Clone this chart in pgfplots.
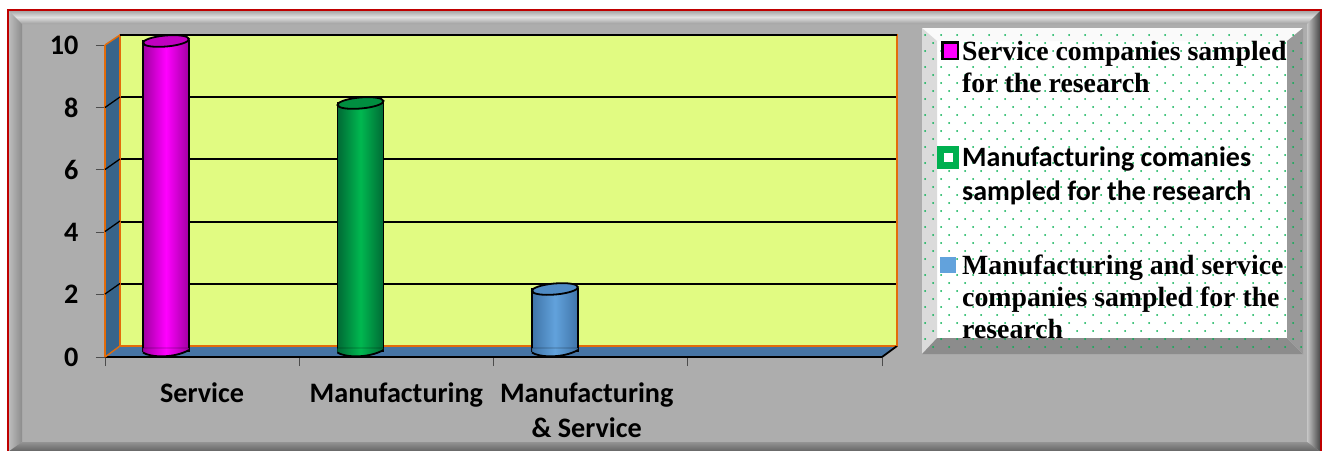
\documentclass[border=0pt]{standalone}
\usepackage{fontspec}
\usepackage{pgfplots}
\pgfplotsset{compat=1.18}
\setmainfont{Carlito}
\newfontfamily\serifb{Liberation Serif}
\definecolor{face}{HTML}{ADADAD}
\definecolor{plotbg}{HTML}{E1FB82}
\definecolor{orangeedge}{HTML}{E36C0A}
\definecolor{wall}{HTML}{38648A}
\definecolor{floorc}{HTML}{4674A4}
\definecolor{dotg}{HTML}{00B050}
\definecolor{medge}{HTML}{A000A0}
\definecolor{mmid}{HTML}{FF00FF}
\definecolor{mcap}{HTML}{C000C0}
\definecolor{gedge}{HTML}{006A35}
\definecolor{gmid}{HTML}{00B850}
\definecolor{gcap}{HTML}{008E40}
\definecolor{bedge}{HTML}{3F74A8}
\definecolor{bmid}{HTML}{62A2DC}
\definecolor{bcap}{HTML}{4F8BC4}
% bar bottoms and tops as plot marks
\newcommand\cylmarks[4]{%
  \pgfdeclareplotmark{#1top}{%
    \draw[line width=1.8pt,black,fill=#4,shift={(0pt,.5pt)}] (23pt,2pt)
      .. controls (22.73pt,5.04pt) and (12.22pt,6.6pt) .. (-.48pt,5.5pt)
      .. controls (-13.18pt,4.4pt) and (-23.27pt,1.04pt) .. (-23pt,-2pt)
      .. controls (-22.73pt,-5.04pt) and (-12.22pt,-6.6pt) .. (.48pt,-5.5pt)
      .. controls (13.18pt,-4.4pt) and (23.27pt,-1.04pt) .. (23pt,2pt) -- cycle;}
  \pgfdeclareplotmark{#1bot}{%
    \shade[left color=#2,right color=#2,middle color=#3]
      (-23pt,3pt) -- (-23pt,-1.5pt) .. controls (-16pt,-6.5pt) and (8pt,-7.5pt) .. (23pt,1pt) -- (23pt,3pt) -- cycle;
    \draw[line width=1.8pt,black] (-23pt,-1.5pt) .. controls (-16pt,-6.5pt) and (8pt,-7.5pt) .. (23pt,1pt);}
}
\cylmarks{mag}{medge}{mmid}{mcap}
\cylmarks{gre}{gedge}{gmid}{gcap}
\cylmarks{blu}{bedge}{bmid}{bcap}
\begin{document}
\begin{tikzpicture}[x=1pt,y=-1pt]
\useasboundingbox (0,0) rectangle (1327,450);
\fill[white] (0,0) rectangle (1327,450);
\begin{scope}
\clip (0,0) rectangle (1327,450);
% outer frame with bevels
\fill[face] (8,10) rectangle (1321,452);
\shade[top color=gray!75,bottom color=gray!75,middle color=white!88!black] (8,10) -- (1321,10) -- (1307,24) -- (22,24) -- cycle;
\shade[left color=gray!50,right color=gray!90] (8,10) -- (22,24) -- (22,442) -- (8,452) -- cycle;
\shade[left color=gray!45,right color=black!75] (1321,10) -- (1307,24) -- (1307,442) -- (1321,452) -- cycle;
\shade[top color=gray!85,bottom color=black!62] (8,452) -- (22,442) -- (1307,442) -- (1321,452) -- cycle;
\draw[line width=1.1pt,red!75!black] (8,452) -- (8,10) -- (1321,10) -- (1321,452);
% legend panel
\fill[white] (922,28) rectangle (1303,354);
\fill[white!98!black] (922,28) -- (1303,28) -- (1287,41) -- (937,41) -- cycle;
\fill[gray!28] (922,28) -- (937,41) -- (937,338) -- (922,354) -- cycle;
\fill[gray!80] (1303,28) -- (1287,41) -- (1287,338) -- (1303,354) -- cycle;
\fill[gray!90] (922,354) -- (937,338) -- (1287,338) -- (1303,354) -- cycle;
\foreach \r in {0,...,39}{
  \pgfmathsetmacro\off{mod(\r,2)*8}
  \foreach \c in {0,...,23}{
    \fill[dotg] ({925+\off+16*\c},{35+8*\r}) circle (1.0);
  }
}
% plot walls
\fill[wall] (105,45) -- (120,35) -- (120,346) -- (105,357) -- cycle;
\fill[floorc] (105,357) -- (120,346) -- (897,346) -- (882,357) -- cycle;
\end{scope}
% back plane, gridlines
\begin{axis}[at={(120pt,-346pt)},anchor=south west,scale only axis,width=777pt,height=311pt,
  xmin=0,xmax=4,ymin=0,ymax=10,ytick={2,4,6,8},xtick=\empty,yticklabels={},
  ymajorgrids,grid style={black,line width=2pt},major tick length=0pt,
  axis background/.style={fill=plotbg},
  axis line style={orangeedge,line width=1.6pt}]
\end{axis}
% front axis: ticks and labels
\begin{axis}[at={(105pt,-357pt)},anchor=south west,scale only axis,width=777pt,height=312pt,
  xmin=-0.5,xmax=3.5,ymin=0,ymax=10,
  axis x line*=bottom,axis y line*=left,
  ytick={0,2,4,6,8,10},xtick={-0.5,0.5,1.5,2.5,3.5},xticklabels={},
  extra x ticks={0,1,1.98},
  extra x tick labels={Service,Manufacturing,{Manufacturing\\\& Service}},
  extra x tick style={major tick length=0pt,
     xticklabel style={yshift=-22pt}},
  tick align=outside,major tick length=9pt,tick style={black!70,line width=.8pt},
  x axis line style={black,line width=1.8pt,-},y axis line style={orangeedge,line width=1.5pt,-},
  /pgf/number format/assume math mode=true,
  ticklabel style={font=\fontsize{28.2}{35}\selectfont\bfseries,black},
  xticklabel style={align=center,text depth=0pt},
  yticklabel style={xshift=-14pt},
  clip=false]
\end{axis}
% the bars
\begin{axis}[at={(112.5pt,-351pt)},anchor=south west,scale only axis,width=777pt,height=310pt,
  xmin=-0.275,xmax=3.72,ymin=0,ymax=10,hide axis,clip=false]
\addplot[ybar,bar width=46pt,bar shift=0pt,draw=black,line width=1.8pt,
   left color=medge,right color=medge,middle color=mmid,forget plot] coordinates {(0,10)};
\addplot[ybar,bar width=46pt,bar shift=0pt,draw=black,line width=1.8pt,
   left color=gedge,right color=gedge,middle color=gmid,forget plot] coordinates {(1,8)};
\addplot[ybar,bar width=46pt,bar shift=0pt,draw=black,line width=1.8pt,
   left color=bedge,right color=bedge,middle color=bmid,forget plot] coordinates {(2,2)};
\addplot[only marks,mark=magtop] coordinates {(0,10)};
\addplot[only marks,mark=gretop] coordinates {(1,8)};
\addplot[only marks,mark=blutop] coordinates {(2,2)};
\addplot[only marks,mark=magbot] coordinates {(0,0)};
\addplot[only marks,mark=grebot] coordinates {(1,0)};
\addplot[only marks,mark=blubot] coordinates {(2,0)};
\end{axis}
% diagonals on the wall
\foreach \y in {97,159,221,283.5}{
  \draw[black,line width=1.3pt] (105,\y+10.5) -- (120,\y);
}
\draw[orangeedge,line width=1.4pt] (105,45) -- (120,35);
\draw[orangeedge,line width=1.4pt] (105,357) -- (120,346);
\draw[black,line width=1.8pt] (882,357) -- (897,346);
\draw[orangeedge,line width=1.6pt] (897,35) -- (897,346);
\draw[black,line width=1.4pt] (120,35) -- (897,35);
% legend
\fill[black] (941,41) rectangle (959,60);
\fill[mmid] (943.5,43.5) rectangle (956.5,57.5);
\fill[dotg] (937,146) rectangle (959,169);
\fill[white] (944,153) rectangle (953,162);
\fill[bmid] (940,257) rectangle (956,273);
\begin{scope}[every node/.style={anchor=base west,inner sep=0pt,black}]
\node[font=\serifb\bfseries\fontsize{27.8}{27}\selectfont] at (962,60) {Service companies sampled};
\node[font=\serifb\bfseries\fontsize{27.8}{27}\selectfont] at (962,92) {for the research};
\node[font=\bfseries\fontsize{28}{27}\selectfont] at (962,166) {Manufacturing comanies};
\node[font=\bfseries\fontsize{28}{27}\selectfont] at (962,200) {sampled for the research};
\node[font=\serifb\bfseries\fontsize{27.8}{27}\selectfont] at (962,274) {Manufacturing and service};
\node[font=\serifb\bfseries\fontsize{27.8}{27}\selectfont] at (962,306) {companies sampled for the};
\node[font=\serifb\bfseries\fontsize{27.8}{27}\selectfont] at (962,338) {research};
\end{scope}
\end{tikzpicture}
\end{document}
